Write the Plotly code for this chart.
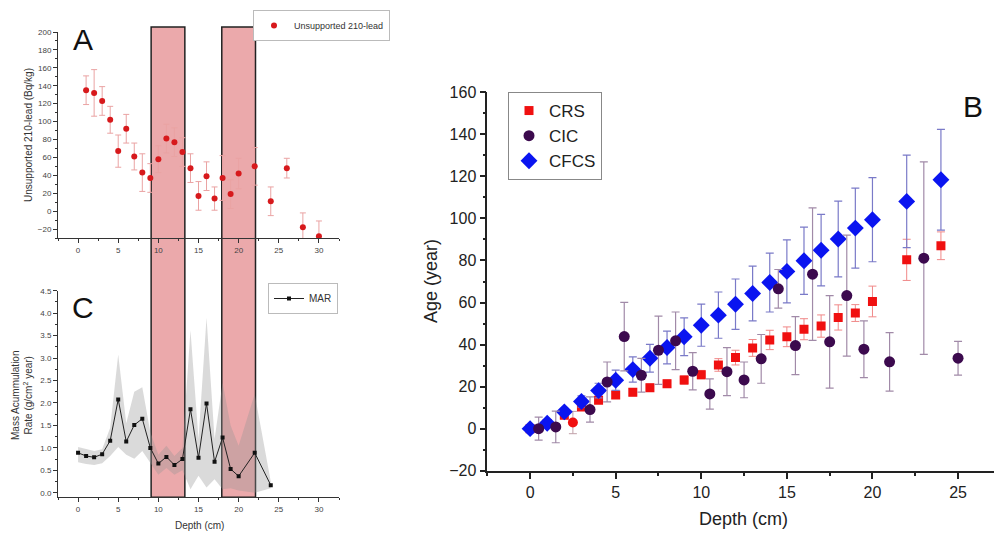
import plotly.graph_objects as go

W, H = 994, 534

# ---------------- Panel A : unsupported 210-lead ----------------
depth_a = [1, 2, 3, 4, 5, 6, 7, 8, 9, 10, 11, 12, 13, 14, 15, 16, 17, 18, 19, 20, 22, 24, 26, 28, 30]
pb_a = [135, 132, 123, 102, 67, 92, 61, 43, 37, 58, 81, 77, 66, 48, 17, 39, 14, 37, 19, 42, 50, 11, 48, -18, -28]
pb_err = [16, 26, 16, 15, 18, 16, 15, 21, 16, 15, 16, 16, 16, 16, 16, 16, 13, 25, 16, 17, 21, 16, 11, 16, 17]

# ---------------- Panel C : mass accumulation rate ----------------
depth_c = [0, 1, 2, 3, 4, 5, 6, 7, 8, 9, 10, 11, 12, 13, 14, 15, 16, 17, 18, 19, 20, 22, 24]
mar = [0.89, 0.82, 0.79, 0.86, 1.16, 2.08, 1.14, 1.51, 1.65, 1.00, 0.65, 0.80, 0.62, 0.75,
       1.86, 0.78, 1.99, 0.69, 1.23, 0.53, 0.37, 0.89, 0.17]
mar_upper = [1.02, 0.98, 0.93, 0.97, 1.45, 3.08, 1.55, 2.25, 2.35, 1.35, 0.85, 1.05, 0.82, 1.00,
             3.62, 1.20, 3.90, 1.20, 2.45, 1.50, 1.05, 2.20, 0.25]
mar_lower = [0.68, 0.64, 0.62, 0.66, 0.82, 1.02, 0.85, 0.76, 0.93, 0.65, 0.40, 0.55, 0.40, 0.50,
             0.08, 0.38, 0.12, 0.30, 0.08, 0.10, 0.05, 0.00, 0.10]

# highlighted depth intervals (cm)
highlight_ranges = [(9.1, 13.3), (17.9, 22.1)]

# ---------------- Panel B : age models ----------------
crs_depth = [0, 1, 2, 3, 4, 5, 6, 7, 8, 9, 10, 11, 12, 13, 14, 15, 16, 17, 18, 19, 20, 22, 24]
crs_age = [0, 2.5, 6.4, 10.3, 13.5, 16.0, 17.3, 19.5, 21.4, 23.1, 25.7, 30.3, 33.8, 38.4, 42.2,
           43.7, 47.3, 48.8, 52.9, 55.0, 60.5, 80.3, 87.0]
crs_err = [0, 0.5, 1, 1.2, 1.5, 1.6, 1.7, 1.8, 1.8, 2, 2, 3, 3.5, 4, 4.6, 4.7, 5, 5.3, 6, 4, 7.3, 9.8, 6.6]
crs_extra_depth = [2.5]
crs_extra_age = [2.9]
crs_extra_err = [5.3]

cic_depth = [0.5, 1.5, 3.5, 4.5, 5.5, 6.5, 7.5, 8.5, 9.5, 10.5, 11.5, 12.5, 13.5, 14.5, 15.5,
             16.5, 17.5, 18.5, 19.5, 21, 23, 25]
cic_age = [0, 0.8, 9.1, 22.2, 43.8, 25.4, 37.3, 41.8, 27.3, 16.5, 27.1, 23.2, 33.2, 66.5, 39.5,
           73.5, 41.3, 63.3, 37.8, 31.8, 81.1, 33.5]
cic_err = [5.5, 7.5, 6, 9.5, 16.3, 8, 16.2, 13.7, 8.9, 7.2, 11.4, 8.5, 11.6, 9.2, 13.8,
           31.5, 22, 28.8, 13.5, 13.9, 45.8, 8]

cfcs_depth = [0, 1, 2, 3, 4, 5, 6, 7, 8, 9, 10, 11, 12, 13, 14, 15, 16, 17, 18, 19, 20, 22, 24]
cfcs_age = [0, 2.6, 8.0, 12.9, 18.1, 23.0, 28.1, 33.5, 38.6, 43.7, 49.2, 54.0, 59.2, 64.3, 69.5,
            74.8, 79.9, 84.9, 90.2, 95.4, 99.4, 108.1, 118.4]
cfcs_err = [0, 1, 1.6, 2.7, 3.5, 4.8, 6, 6.6, 7.8, 9, 10, 11, 12, 13, 14, 15, 16, 17, 18, 19, 20, 22, 24]


def px_x(p):
    return p / W


def px_y(p):
    return 1 - p / H


FONT = "Arial, Liberation Sans, sans-serif"
fig = go.Figure()

# ---- Panel A traces ----
fig.add_trace(go.Scatter(
    x=depth_a, y=pb_a, mode="markers", name="Unsupported 210-lead",
    marker=dict(color="#d7191c", size=6),
    error_y=dict(type="data", array=pb_err, color="#eaa3a3", thickness=1, width=3),
    xaxis="x", yaxis="y", legend="legend"))

# ---- Panel C traces ----
fig.add_trace(go.Scatter(
    x=depth_c, y=mar_lower, mode="lines", line=dict(width=0, color="rgba(0,0,0,0)"),
    showlegend=False, hoverinfo="skip", xaxis="x2", yaxis="y2"))
fig.add_trace(go.Scatter(
    x=depth_c, y=mar_upper, mode="lines", line=dict(width=0, color="rgba(0,0,0,0)"),
    fill="tonexty", fillcolor="rgba(150,150,150,0.35)",
    showlegend=False, hoverinfo="skip", xaxis="x2", yaxis="y2"))
fig.add_trace(go.Scatter(
    x=depth_c, y=mar, mode="lines+markers", name="MAR",
    line=dict(color="#222222", width=1),
    marker=dict(symbol="square", size=4, color="#111111"),
    xaxis="x2", yaxis="y2", legend="legend2"))

# ---- Panel B traces ----
fig.add_trace(go.Scatter(
    x=crs_depth, y=crs_age, mode="markers", name="CRS", legendrank=1,
    marker=dict(symbol="square", size=9, color="#f01010"),
    error_y=dict(type="data", array=crs_err, color="#f08888", thickness=1, width=4),
    xaxis="x3", yaxis="y3", legend="legend3"))
fig.add_trace(go.Scatter(
    x=crs_extra_depth, y=crs_extra_age, mode="markers", showlegend=False,
    marker=dict(symbol="circle", size=10, color="#f01010"),
    error_y=dict(type="data", array=crs_extra_err, color="#c0a0a8", thickness=1, width=4),
    xaxis="x3", yaxis="y3"))
fig.add_trace(go.Scatter(
    x=cfcs_depth, y=cfcs_age, mode="markers", name="CFCS", legendrank=3,
    marker=dict(symbol="diamond", size=13, color="#0a14f0"),
    error_y=dict(type="data", array=cfcs_err, color="#7a7ac8", thickness=1.2, width=4),
    xaxis="x3", yaxis="y3", legend="legend3"))
fig.add_trace(go.Scatter(
    x=cic_depth, y=cic_age, mode="markers", name="CIC", legendrank=2,
    marker=dict(symbol="circle", size=11, color="#3c0a4e"),
    error_y=dict(type="data", array=cic_err, color="#a18aa8", thickness=1.2, width=4),
    xaxis="x3", yaxis="y3", legend="legend3"))

# ---- highlight rectangles spanning panels A and C ----
shapes = []
for x0, x1 in highlight_ranges:
    shapes.append(dict(type="rect", xref="x", yref="paper", x0=x0, x1=x1,
                       y0=px_y(497.3), y1=px_y(27), layer="below",
                       fillcolor="#eba9ab", line=dict(color="#222222", width=1.5)))

small_tick = dict(family=FONT, size=8, color="#444444")
big_tick = dict(family=FONT, size=16, color="#222222")

common_small = dict(showline=True, linecolor="#333333", linewidth=1, ticks="outside",
                    ticklen=4, tickcolor="#333333", showgrid=False, zeroline=False,
                    tickfont=small_tick, automargin=False)
common_big = dict(showline=True, linecolor="#222222", linewidth=1.6, ticks="outside",
                  ticklen=6, tickwidth=1.5, tickcolor="#222222", showgrid=False,
                  zeroline=False, tickfont=big_tick, automargin=False)

fig.update_layout(
    template="none",
    width=W, height=H,
    margin=dict(l=0, r=0, t=0, b=0),
    paper_bgcolor="white", plot_bgcolor="rgba(0,0,0,0)",
    font=dict(family=FONT),
    shapes=shapes,
    xaxis=dict(domain=[px_x(58), px_x(339)], range=[-2.5, 32.5], anchor="y",
               tick0=0, dtick=5, minor=dict(ticks="outside", ticklen=2, dtick=2.5,
                                            tickcolor="#333333"),
               **common_small),
    yaxis=dict(domain=[px_y(238), px_y(32)], range=[-30, 200], anchor="x",
               tick0=0, dtick=20, minor=dict(ticks="outside", ticklen=2, dtick=10,
                                             tickcolor="#333333"),
               **common_small),
    xaxis2=dict(domain=[px_x(58), px_x(339)], range=[-2.5, 32.5], anchor="y2",
                tick0=0, dtick=5, minor=dict(ticks="outside", ticklen=2, dtick=2.5,
                                             tickcolor="#333333"),
                **common_small),
    yaxis2=dict(domain=[px_y(497.3), px_y(290.7)], range=[-0.1, 4.5], anchor="x2",
                tick0=0, dtick=0.5, tickformat=".1f",
                minor=dict(ticks="outside", ticklen=2, dtick=0.25, tickcolor="#333333"),
                **common_small),
    xaxis3=dict(domain=[px_x(487.3), 1.0], range=[-2.5, 27.1], anchor="y3",
                tick0=0, dtick=5, minor=dict(ticks="outside", ticklen=3, dtick=2.5,
                                             tickcolor="#222222"),
                **common_big),
    yaxis3=dict(domain=[px_y(470.7), px_y(92.3)], range=[-20, 160], anchor="x3",
                tick0=0, dtick=20, minor=dict(ticks="outside", ticklen=3, dtick=10,
                                              tickcolor="#222222"),
                **common_big),
    legend=dict(x=px_x(253), y=px_y(10), xanchor="left", yanchor="top",
                bgcolor="white", bordercolor="#bbbbbb", borderwidth=1,
                font=dict(family=FONT, size=9, color="#333333"),
                itemwidth=30, tracegroupgap=0),
    legend2=dict(x=px_x(268), y=px_y(283), xanchor="left", yanchor="top",
                 bgcolor="white", bordercolor="#bbbbbb", borderwidth=1,
                 font=dict(family=FONT, size=10, color="#333333"), itemwidth=30),
    legend3=dict(x=px_x(508), y=px_y(92), xanchor="left", yanchor="top",
                 bgcolor="white", bordercolor="#888888", borderwidth=1,
                 font=dict(family=FONT, size=17, color="#222222"),
                 itemwidth=30, traceorder="normal"),
)

annotations = [
    dict(text="A", x=px_x(83), y=px_y(40), font=dict(size=30, color="#111111")),
    dict(text="C", x=px_x(83), y=px_y(307), font=dict(size=30, color="#111111")),
    dict(text="B", x=px_x(973), y=px_y(107), font=dict(size=30, color="#111111")),
    dict(text="Unsupported 210-lead (Bq/kg)", x=px_x(28), y=px_y(135), textangle=-90,
         font=dict(size=10, color="#333333")),
    dict(text="Mass Acummulation<br>Rate (g/cm<sup>2</sup> year)", x=px_x(22), y=px_y(396),
         textangle=-90, font=dict(size=10, color="#333333")),
    dict(text="Depth (cm)", x=px_x(199), y=px_y(525), font=dict(size=10, color="#333333")),
    dict(text="Depth (cm)", x=px_x(743), y=px_y(519), font=dict(size=18, color="#222222")),
    dict(text="Age (year)", x=px_x(431), y=px_y(281), textangle=-90,
         font=dict(size=18, color="#222222")),
]
for a in annotations:
    a.update(xref="paper", yref="paper", showarrow=False, xanchor="center", yanchor="middle")
    a["font"]["family"] = FONT
fig.update_layout(annotations=annotations)

fig.write_html(
    "out.html",
    config={"displayModeBar": False},
    post_script="document.body.style.margin='0';document.body.style.padding='0';",
)
